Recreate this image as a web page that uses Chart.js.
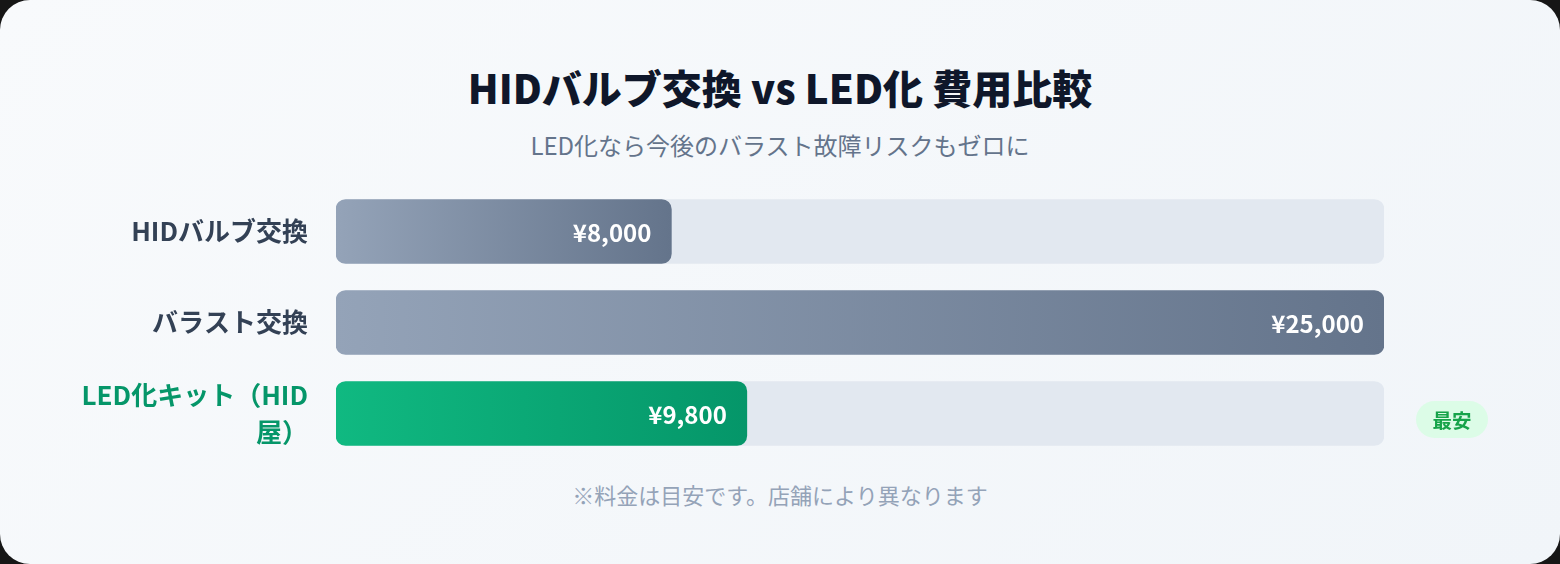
<!DOCTYPE html>
<html lang="ja">
<head>
<meta charset="utf-8">
<script src="https://cdn.jsdelivr.net/npm/chart.js@4.4.0/dist/chart.umd.min.js"></script>
<style>
  html, body { margin: 0; padding: 0; width: 1560px; height: 564px; background: #161616; overflow: hidden; }
  .card {
    position: absolute; left: 0; top: 0; width: 1560px; height: 564px;
    border-radius: 30px;
    background: linear-gradient(135deg, #f8fafc 0%, #f1f5f9 100%);
    font-family: 'Noto Sans CJK JP', 'Noto Sans', sans-serif;
  }
  .title {
    position: absolute; left: 0; width: 1560px; top: 59px; text-align: center;
    font-size: 40px; font-weight: 800; color: #0f172a; line-height: 56px;
  }
  .subtitle {
    position: absolute; left: 0; width: 1560px; top: 128px; text-align: center;
    font-size: 24px; font-weight: 400; color: #64748b; line-height: 34px;
  }
  .note {
    position: absolute; left: 0; width: 1560px; top: 478px; text-align: center;
    font-size: 22px; font-weight: 400; color: #94a3b8; line-height: 32px;
  }
  .chartbox { position: absolute; left: 0; top: 180px; width: 1560px; height: 290px; }
  canvas { display: block; }
</style>
</head>
<body>
<div class="card">
  <div class="title">HIDバルブ交換 vs LED化 費用比較</div>
  <div class="subtitle">LED化なら今後のバラスト故障リスクもゼロに</div>
  <div class="chartbox"><canvas id="c" width="1560" height="290"></canvas></div>
  <div class="note">※料金は目安です。店舗により異なります</div>
</div>
<script>
const categories = ['HIDバルブ交換', 'バラスト交換', 'LED化キット（HID屋）'];
const costs = [8000, 25000, 9800];
const valueLabels = ['¥8,000', '¥25,000', '¥9,800'];
const highlightIndex = 2;
const badgeText = '最安';
const axisMax = 25000;
const trackValues = categories.map(() => axisMax);

const FONT = "'Noto Sans CJK JP', 'Noto Sans', sans-serif";
const TICK_SIZE = 26;
const TICK_FONT = "600 " + TICK_SIZE + "px " + FONT;
const LABEL_MAX_W = 232;

const measureCtx = document.createElement('canvas').getContext('2d');
function wrapLabel(s) {
  measureCtx.font = TICK_FONT;
  const lines = [];
  let cur = '';
  for (const ch of s) {
    if (cur && measureCtx.measureText(cur + ch).width > LABEL_MAX_W) {
      lines.push(cur);
      cur = ch;
    } else {
      cur += ch;
    }
  }
  if (cur) lines.push(cur);
  return lines.length > 1 ? lines : s;
}

function barGradient(ctx) {
  const chart = ctx.chart;
  const area = chart.chartArea;
  if (!area) return '#94a3b8';
  const xs = chart.scales.x;
  const x0 = xs.getPixelForValue(0);
  const x1 = xs.getPixelForValue(costs[ctx.dataIndex]);
  const g = chart.ctx.createLinearGradient(x0, 0, x1, 0);
  if (ctx.dataIndex === highlightIndex) {
    g.addColorStop(0, '#10b981');
    g.addColorStop(1, '#059669');
  } else {
    g.addColorStop(0, '#94a3b8');
    g.addColorStop(1, '#64748b');
  }
  return g;
}

const overlayPlugin = {
  id: 'overlay',
  afterDatasetsDraw(chart) {
    const ctx = chart.ctx;
    const meta = chart.getDatasetMeta(0);
    ctx.save();
    ctx.font = "700 24px " + FONT;
    ctx.fillStyle = '#ffffff';
    ctx.textAlign = 'right';
    ctx.textBaseline = 'middle';
    meta.data.forEach((bar, i) => {
      ctx.fillText(valueLabels[i], bar.x - 20, bar.y + 1);
    });
    // badge
    const hb = meta.data[highlightIndex];
    const area = chart.chartArea;
    const bx = area.right + 32, bw = 72, bh = 37;
    const by = hb.y + 6 - bh / 2;
    ctx.beginPath();
    ctx.roundRect(bx, by, bw, bh, bh / 2);
    ctx.fillStyle = '#dcfce7';
    ctx.fill();
    ctx.font = "700 19.5px " + FONT;
    ctx.fillStyle = '#16a34a';
    ctx.textAlign = 'center';
    ctx.fillText(badgeText, bx + bw / 2, by + bh / 2 + 1);
    ctx.restore();
  }
};

new Chart(document.getElementById('c'), {
  type: 'bar',
  data: {
    labels: categories,
    datasets: [
      {
        data: costs,
        backgroundColor: barGradient,
        borderRadius: 10,
        borderSkipped: false,
        barThickness: 64,
        grouped: false
      },
      {
        data: trackValues,
        backgroundColor: '#e2e8f0',
        borderRadius: 10,
        borderSkipped: false,
        barThickness: 64,
        grouped: false
      }
    ]
  },
  options: {
    indexAxis: 'y',
    responsive: false,
    animation: false,
    layout: { padding: { top: 6, bottom: 11, left: 0, right: 176 } },
    plugins: { legend: { display: false }, tooltip: { enabled: false } },
    scales: {
      x: { display: false, min: 0, max: axisMax },
      y: {
        grid: { display: false, drawTicks: false },
        border: { display: false },
        afterFit(scale) {
          scale.width = 336;
          scale.paddingTop = 0;
          scale.paddingBottom = 0;
        },
        ticks: {
          padding: 28,
          font: { family: FONT, size: TICK_SIZE, weight: '600', lineHeight: 1.45 },
          color: (c) => c.index === highlightIndex ? '#059669' : '#334155',
          callback: function (v) {
            return wrapLabel(this.getLabelForValue(v));
          }
        }
      }
    }
  },
  plugins: [overlayPlugin]
});
</script>
</body>
</html>
